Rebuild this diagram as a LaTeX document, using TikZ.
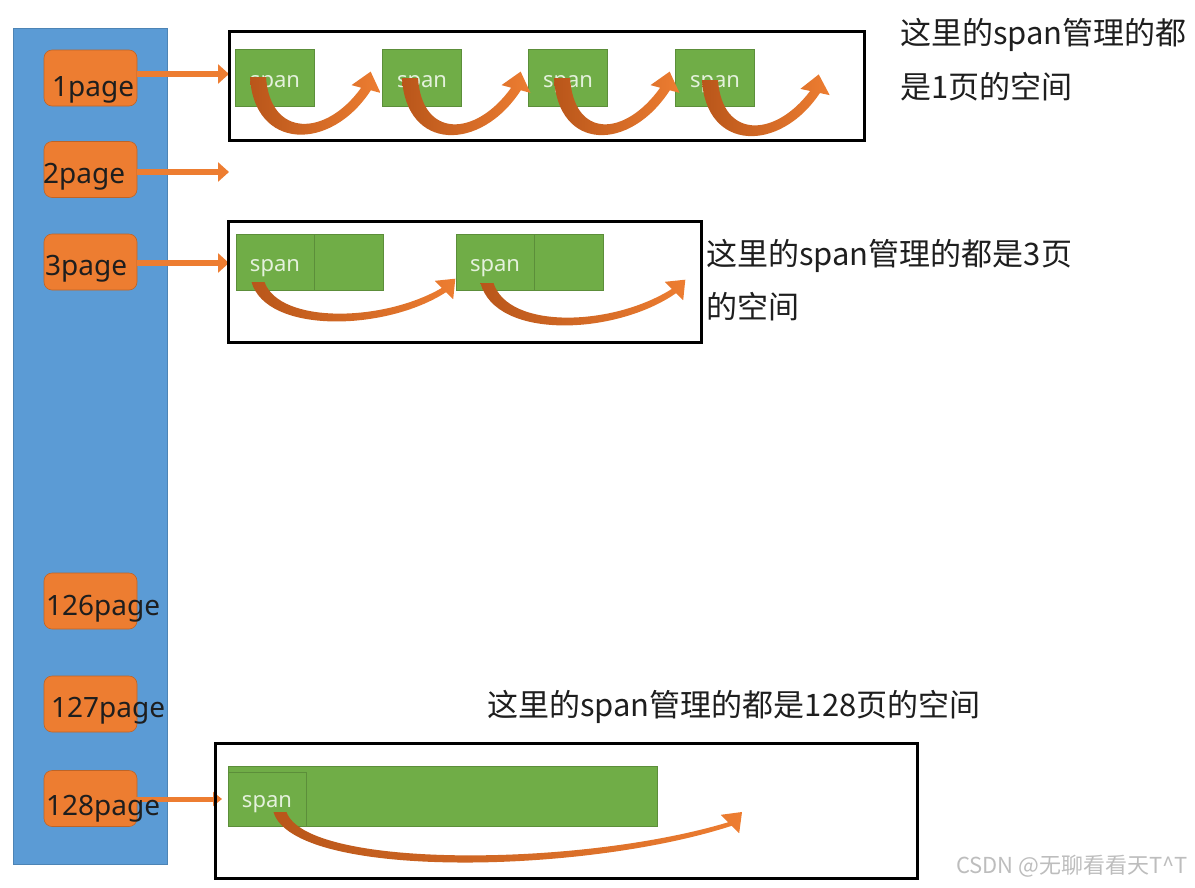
\documentclass[tikz,border=0pt]{standalone}
\usepackage{fontspec}
\setmainfont{Noto Sans}
\newfontfamily\cjk{Noto Sans CJK SC}
\usetikzlibrary{calc,arrows.meta}
\definecolor{bluebar}{HTML}{5B9BD5}
\definecolor{pageor}{HTML}{ED7D31}
\definecolor{hopdark}{HTML}{B9561A}
\definecolor{spangreen}{HTML}{70AD47}
\definecolor{spantxt}{HTML}{E4F1DC}
\definecolor{txt}{HTML}{1E1E1E}
\definecolor{wm}{HTML}{BDBDBD}
% #1 start, #2 head base, #3 ctrl1 offset, #4 ctrl2 offset, #5 start half width, #6 end half width, #7 head angle, #8 head half width, #9 head length
\newcommand\hop[9]{%
  \path[hopshade] ($(#1)+(-#5,0)$)
    .. controls ($(#1)+(#3)+(-#5,0.8*#5)$) and ($(#2)+(#4)+(0.5*#6,1.5*#6)$) .. ($(#2)+(#7+90:#6)$)
    -- ($(#2)+(#7+90:#8)$) -- ($(#2)+(#7:#9)$) -- ($(#2)+(#7-90:#8)$) -- ($(#2)+(#7-90:#6)$)
    .. controls ($(#2)+(#4)+(-0.5*#6,-1.5*#6)$) and ($(#1)+(#3)+(#5,-0.8*#5)$) .. ($(#1)+(#5,0)$) -- cycle;}
\tikzset{
  bar/.style={fill=bluebar, draw=bluebar!85!black, line width=0.6pt},
  pagebox/.style={fill=pageor, draw=pageor!80!black, line width=0.6pt, rounded corners=8pt,
    minimum width=93pt, minimum height=56pt, inner sep=0pt},
  pagetext/.style={anchor=base west, inner sep=0pt, text=txt, font=\fontsize{28}{30}\selectfont},
  pagearrow/.style={draw=pageor, line width=6pt, -{Triangle[length=11pt,width=19pt]}},
  spanbox/.style={fill=spangreen, draw=spangreen!82!black, line width=0.7pt, inner sep=0pt,
    text=spantxt, font=\fontsize{22}{24}\selectfont, text height=19pt, text depth=0pt},
  frame/.style={draw=black, line width=3pt},
  note/.style={anchor=base west, inner sep=0pt, text=txt, font=\cjk\fontsize{31}{34}\selectfont},
  hopshade/.style={left color=hopdark, right color=pageor},
}
\begin{document}
\begin{tikzpicture}[x=1pt,y=-1pt]
\useasboundingbox (0,0) rectangle (1195,887);
% blue column
\path[bar] (13,28) rectangle (167,864);
% page boxes
\node[pagebox] (p1) at (90.5,78) {};
\node[pagebox] (p2) at (90.5,169.5) {};
\node[pagebox] (p3) at (90.5,262) {};
\node[pagebox] (p126) at (90.5,601) {};
\node[pagebox] (p127) at (90.5,704) {};
\node[pagebox] (p128) at (90.5,798.5) {};
% arrow targets
\coordinate (a1) at (229,74);
\coordinate (a2) at (229,172);
\coordinate (a3) at (229,263);
\coordinate (a128) at (222,799);
\draw[pagearrow] (p1.east |- a1) -- (a1);
\draw[pagearrow] (p2.east |- a2) -- (a2);
\draw[pagearrow] (p3.east |- a3) -- (a3);
\draw[pagearrow, line width=5pt, -{Triangle[length=9pt,width=14pt]}] ([xshift=-5pt]p128.east |- a128) -- (a128);
% page labels
\node[pagetext] at (52,96) {1page};
\node[pagetext] at (43,183) {2page};
\node[pagetext] at (45,275) {3page};
\node[pagetext] at (46,615) {126page};
\node[pagetext] at (51,717) {127page};
\node[pagetext] at (46,815) {128page};
% frame 1 : 1-page spans
\draw[frame] (229.5,31) rectangle (864.5,140);
\node[spanbox, minimum width=79pt, minimum height=57pt] (s11) at (275,77.5) {span};
\node[spanbox, minimum width=79pt, minimum height=57pt] (s12) at (422,77.5) {span};
\node[spanbox, minimum width=79pt, minimum height=57pt] (s13) at (568,77.5) {span};
\node[spanbox, minimum width=79pt, minimum height=57pt] (s14) at (715,77.5) {span};
\coordinate (h11s) at (258,77); \coordinate (h11e) at (366,89);
\coordinate (h12s) at (410,78); \coordinate (h12e) at (516,89);
\coordinate (h13s) at (562,78); \coordinate (h13e) at (665,89);
\coordinate (h14s) at (710,80); \coordinate (h14e) at (815,92);
\hop{h11s}{h11e}{4,67}{-38,56}{8}{5}{-75}{15}{18}
\hop{h12s}{h12e}{4,67}{-38,56}{8}{5}{-75}{15}{18}
\hop{h13s}{h13e}{4,67}{-38,56}{8}{5}{-75}{15}{18}
\hop{h14s}{h14e}{4,65}{-38,54}{8}{5}{-78}{15}{18}
% frame 2 : 3-page spans
\draw[frame] (228,221) rectangle (701,342);
\node[spanbox, minimum width=78pt, minimum height=56pt] (s21) at (275,262) {span};
\node[spanbox, minimum width=69pt, minimum height=56pt, anchor=west] (s21b) at (s21.east) {};
\node[spanbox, minimum width=78pt, minimum height=56pt] (s22) at (495,262) {span};
\node[spanbox, minimum width=69pt, minimum height=56pt, anchor=west] (s22b) at (s22.east) {};
\coordinate (h21s) at (258,282); \coordinate (h21e) at (444,290);
\coordinate (h22s) at (487,283); \coordinate (h22e) at (674,291);
\hop{h21s}{h21e}{15,47}{-60,37}{6.5}{3}{-45}{13}{16}
\hop{h22s}{h22e}{15,52}{-60,40}{6.5}{3}{-45}{13}{16}
% frame 3 : 128-page span
\draw[frame] (215,743) rectangle (917,878);
\node[spanbox, minimum width=429pt, minimum height=60pt] (s3big) at (442.5,796) {};
\node[spanbox, minimum width=78pt, minimum height=54pt, text height=16pt] (s3) at (267,799) {span};
\coordinate (h3s) at (280,812); \coordinate (h3e) at (730,824);
\hop{h3s}{h3e}{20,62}{-150,47}{6.5}{2.5}{-45}{13}{17}
% notes
\node[note] (n1a) at (900,44) {这里的span管理的都};
\node[note] (n1b) at (900,98) {是1页的空间};
\node[note] (n2a) at (706,265) {这里的span管理的都是3页};
\node[note] (n2b) at (706,318) {的空间};
\node[note] (n3) at (487,716) {这里的span管理的都是128页的空间};
% watermark
\node[anchor=base west, inner sep=0pt, text=wm, font=\cjk\fontsize{22}{24}\selectfont] (wm) at (956,873) {CSDN @无聊看看天T\textasciicircum T};
\end{tikzpicture}
\end{document}
